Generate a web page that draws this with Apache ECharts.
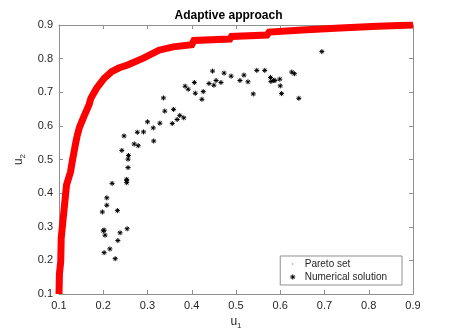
<!DOCTYPE html>
<html>
<head>
<meta charset="utf-8">
<script src="https://cdn.jsdelivr.net/npm/echarts@6/dist/echarts.min.js"></script>
<style>
  html, body { margin: 0; padding: 0; background: #fff; }
  #chart { width: 457px; height: 335px; }
</style>
</head>
<body>
<div id="chart"></div>
<script>
// Pareto set ([u1, u2])
var paretoSet = [
    [0.100, 0.100], [0.101, 0.160], [0.104, 0.198], [0.105, 0.267], [0.111, 0.345],
    [0.117, 0.424], [0.126, 0.463], [0.131, 0.502], [0.138, 0.551], [0.141, 0.570],
    [0.146, 0.595], [0.155, 0.624], [0.168, 0.663], [0.172, 0.682], [0.185, 0.712],
    [0.202, 0.741], [0.219, 0.761], [0.235, 0.772], [0.255, 0.781], [0.292, 0.802],
    [0.326, 0.825], [0.358, 0.835], [0.400, 0.841], [0.405, 0.854], [0.486, 0.858],
    [0.490, 0.866], [0.570, 0.870], [0.575, 0.879], [0.650, 0.885], [0.735, 0.891],
    [0.820, 0.896], [0.900, 0.900]
];

// numerical solution points
var numSolution = [
    [0.242, 0.527], [0.257, 0.512], [0.256, 0.501], [0.256, 0.476], [0.220, 0.429],
    [0.253, 0.441], [0.253, 0.437], [0.253, 0.431], [0.208, 0.386], [0.208, 0.364],
    [0.198, 0.344], [0.232, 0.348], [0.200, 0.288], [0.202, 0.290], [0.204, 0.275],
    [0.238, 0.282], [0.254, 0.294], [0.233, 0.259], [0.215, 0.234], [0.202, 0.223],
    [0.227, 0.205],
    [0.336, 0.683], [0.339, 0.644], [0.359, 0.649], [0.373, 0.631], [0.367, 0.619],
    [0.382, 0.624], [0.356, 0.607], [0.328, 0.608], [0.300, 0.612], [0.313, 0.594],
    [0.314, 0.555], [0.291, 0.582], [0.277, 0.581], [0.247, 0.570], [0.270, 0.546],
    [0.279, 0.541], [0.385, 0.718], [0.392, 0.709], [0.406, 0.729], [0.408, 0.697],
    [0.423, 0.679], [0.426, 0.702], [0.439, 0.726], [0.447, 0.763], [0.450, 0.721],
    [0.455, 0.735], [0.466, 0.729], [0.473, 0.757], [0.489, 0.748], [0.509, 0.735],
    [0.518, 0.751], [0.527, 0.731], [0.539, 0.695], [0.547, 0.765], [0.565, 0.765],
    [0.578, 0.744], [0.579, 0.732], [0.585, 0.735], [0.588, 0.735], [0.599, 0.739],
    [0.600, 0.719], [0.603, 0.696], [0.626, 0.760], [0.632, 0.755], [0.642, 0.682],
    [0.694, 0.821]
];

var axisTicks = [0.1, 0.2, 0.3, 0.4, 0.5, 0.6, 0.7, 0.8, 0.9];

var font = '"Liberation Sans", Arial, sans-serif';
var frameColor = '#8f8f8f';
var textColor = '#262626';
var asterisk = 'path://M0,5L10,5M5,0L5,10M1.5,1.5L8.5,8.5M1.5,8.5L8.5,1.5';
// legend icons: the leading moves pad the box so the mark stays small
var asteriskIcon = 'path://M0,0M28,14M9,7L19,7M14,2L14,12M10.5,3.5L17.5,10.5M10.5,10.5L17.5,3.5';
var dotIcon = 'path://M0,0M28,14M13,6L15,6L15,8L13,8Z';

function fmt(v) { return (Math.round(v * 10) / 10).toFixed(1); }

function makeAxis(pos, main) {
    return {
        type: 'value',
        position: pos,
        min: axisTicks[0],
        max: axisTicks[axisTicks.length - 1],
        interval: 0.1,
        axisLine: { show: true, onZero: false, lineStyle: { color: frameColor, width: 1 } },
        axisTick: { show: true, inside: true, length: 4, lineStyle: { color: frameColor } },
        axisLabel: { show: main, color: textColor, fontSize: 11, fontFamily: font, formatter: fmt, margin: 6 },
        splitLine: { show: false }
    };
}

var xBottom = makeAxis('bottom', true);
xBottom.name = '{a|u}{b|1}';
xBottom.nameLocation = 'middle';
xBottom.nameGap = 20;
xBottom.nameTextStyle = {
    rich: {
        a: { fontSize: 12, color: textColor, fontFamily: font },
        b: { fontSize: 8, color: textColor, fontFamily: font, padding: [8, 0, 0, 0] }
    }
};

var yLeft = makeAxis('left', true);
yLeft.name = '{a|u}{b|2}';
yLeft.nameLocation = 'middle';
yLeft.nameGap = 27;
yLeft.nameTextStyle = xBottom.nameTextStyle;

var chart = echarts.init(document.getElementById('chart'));
chart.setOption({
    animation: false,
    backgroundColor: '#fff',
    title: {
        text: 'Adaptive approach',
        left: 'center',
        top: 5,
        textStyle: { fontSize: 12, fontWeight: 'bold', color: '#000', fontFamily: font }
    },
    grid: { left: 59, right: 44, top: 25, bottom: 38 },
    xAxis: [xBottom, makeAxis('top', false)],
    yAxis: [yLeft, makeAxis('right', false)],
    legend: {
        orient: 'vertical',
        right: 55,
        bottom: 50,
        backgroundColor: '#fff',
        borderColor: '#8f8f8f',
        borderWidth: 1,
        borderRadius: 0,
        padding: [3, 15, 3, 5],
        itemGap: 3,
        itemWidth: 14,
        itemHeight: 7,
        textStyle: { fontSize: 10, color: textColor, fontFamily: font },
        data: [
            { name: 'Pareto set', icon: dotIcon, itemStyle: { color: '#ff0000' } },
            {
                name: 'Numerical solution',
                icon: asteriskIcon,
                itemStyle: { color: 'rgba(0,0,0,0)', borderColor: '#000', borderWidth: 1 }
            }
        ]
    },
    series: [
        {
            name: 'Pareto set',
            type: 'line',
            data: paretoSet,
            showSymbol: false,
            symbol: 'none',
            color: '#ff0000',
            lineStyle: { color: '#ff0000', width: 7, join: 'miter' },
            clip: true,
            z: 2
        },
        {
            name: 'Numerical solution',
            type: 'scatter',
            data: numSolution,
            symbol: asterisk,
            symbolSize: 5,
            itemStyle: { color: 'rgba(0,0,0,0)', borderColor: '#000', borderWidth: 1, opacity: 1 },
            z: 3
        }
    ]
});
</script>
</body>
</html>
